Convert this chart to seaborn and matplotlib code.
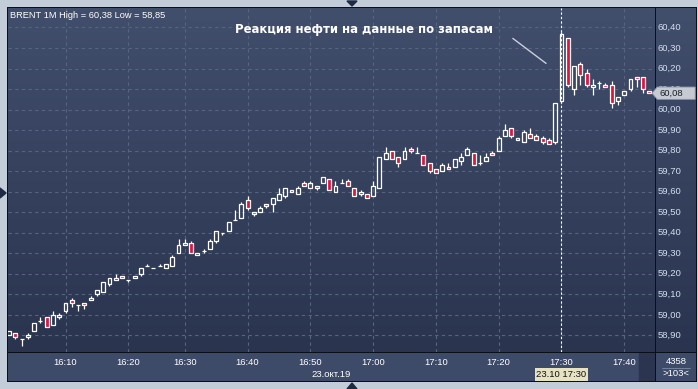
import numpy as np
import matplotlib
matplotlib.use("Agg")
import matplotlib.pyplot as plt
import matplotlib.transforms as mtransforms
from matplotlib.patches import Polygon, Rectangle
from matplotlib.colors import LinearSegmentedColormap
import seaborn as sns

# ---------------- data (1-minute BRENT candles, 16:01 .. 17:44) ----------------
opens = [58.90, 58.91, 58.88, 58.89, 58.92, 58.97, 58.99, 58.95, 58.99, 59.02,
         59.07, 59.05, 59.06, 59.07, 59.10, 59.11, 59.15, 59.17, 59.19, 59.17,
         59.18, 59.20, 59.24, 59.23, 59.24, 59.23, 59.24, 59.30, 59.34, 59.35,
         59.29, 59.31, 59.32, 59.36, 59.40, 59.41, 59.46, 59.47, 59.56, 59.50,
         59.50, 59.54, 59.54, 59.56, 59.58, 59.61, 59.59, 59.64, 59.62, 59.63,
         59.64, 59.66, 59.60, 59.64, 59.65, 59.62, 59.59, 59.59, 59.58, 59.62,
         59.76, 59.80, 59.77, 59.76, 59.81, 59.79, 59.78, 59.74, 59.71, 59.70,
         59.72, 59.72, 59.75, 59.78, 59.79, 59.74, 59.75, 59.79, 59.80, 59.87,
         59.91, 59.85, 59.84, 59.88, 59.87, 59.86, 59.85, 59.84, 60.04, 60.35,
         60.10, 60.22, 60.18, 60.11, 60.13, 60.12, 60.12, 60.04, 60.07, 60.10,
         60.16, 60.16, 60.09]
highs = [58.92, 58.91, 58.88, 58.91, 58.96, 58.99, 58.99, 59.02, 59.01, 59.06,
         59.08, 59.05, 59.06, 59.09, 59.12, 59.16, 59.18, 59.20, 59.19, 59.17,
         59.19, 59.23, 59.25, 59.23, 59.25, 59.25, 59.29, 59.37, 59.37, 59.36,
         59.30, 59.32, 59.37, 59.41, 59.40, 59.45, 59.51, 59.55, 59.58, 59.50,
         59.53, 59.54, 59.57, 59.62, 59.62, 59.61, 59.63, 59.65, 59.65, 59.63,
         59.67, 59.66, 59.65, 59.66, 59.66, 59.62, 59.61, 59.59, 59.65, 59.77,
         59.82, 59.80, 59.77, 59.82, 59.82, 59.82, 59.78, 59.74, 59.71, 59.74,
         59.74, 59.76, 59.79, 59.82, 59.79, 59.78, 59.79, 59.80, 59.87, 59.93,
         59.91, 59.86, 59.90, 59.91, 59.88, 59.87, 59.86, 60.03, 60.38, 60.35,
         60.21, 60.23, 60.20, 60.15, 60.14, 60.13, 60.14, 60.06, 60.09, 60.15,
         60.16, 60.16, 60.09]
lows = [58.90, 58.88, 58.85, 58.88, 58.92, 58.96, 58.94, 58.95, 58.98, 59.01,
        59.04, 59.02, 59.03, 59.07, 59.09, 59.11, 59.14, 59.17, 59.18, 59.16,
        59.18, 59.19, 59.24, 59.23, 59.24, 59.23, 59.24, 59.30, 59.34, 59.30,
        59.29, 59.30, 59.32, 59.35, 59.39, 59.41, 59.46, 59.47, 59.51, 59.48,
        59.50, 59.52, 59.50, 59.56, 59.57, 59.60, 59.59, 59.63, 59.62, 59.61,
        59.64, 59.61, 59.60, 59.64, 59.63, 59.58, 59.58, 59.57, 59.58, 59.62,
        59.76, 59.76, 59.72, 59.76, 59.79, 59.79, 59.73, 59.69, 59.69, 59.70,
        59.71, 59.72, 59.73, 59.78, 59.73, 59.73, 59.75, 59.78, 59.80, 59.87,
        59.86, 59.85, 59.84, 59.86, 59.85, 59.83, 59.83, 59.83, 60.03, 60.11,
        60.07, 60.12, 60.11, 60.07, 60.10, 60.11, 60.01, 60.02, 60.07, 60.09,
        60.11, 60.08, 60.08]
closes = [58.92, 58.89, 58.88, 58.90, 58.96, 58.97, 58.94, 59.00, 59.00, 59.06,
          59.06, 59.05, 59.05, 59.08, 59.12, 59.16, 59.18, 59.18, 59.18, 59.17,
          59.19, 59.23, 59.24, 59.23, 59.24, 59.25, 59.28, 59.34, 59.35, 59.30,
          59.30, 59.31, 59.36, 59.41, 59.40, 59.45, 59.46, 59.54, 59.52, 59.49,
          59.52, 59.53, 59.57, 59.59, 59.62, 59.60, 59.62, 59.63, 59.64, 59.62,
          59.67, 59.61, 59.63, 59.64, 59.63, 59.58, 59.60, 59.57, 59.63, 59.77,
          59.79, 59.76, 59.74, 59.80, 59.80, 59.79, 59.73, 59.70, 59.69, 59.73,
          59.71, 59.76, 59.77, 59.81, 59.73, 59.74, 59.77, 59.78, 59.86, 59.90,
          59.87, 59.86, 59.89, 59.86, 59.85, 59.84, 59.83, 60.03, 60.37, 60.12,
          60.21, 60.17, 60.12, 60.12, 60.13, 60.11, 60.03, 60.06, 60.09, 60.15,
          60.15, 60.10, 60.08]

tick_candles = [9, 19, 28, 38, 48, 58, 68, 78, 88, 98]
tick_labels = ["16:10", "16:20", "16:30", "16:40", "16:50",
               "17:00", "17:10", "17:20", "17:30", "17:40"]
price_ticks = [58.90, 59.00, 59.10, 59.20, 59.30, 59.40, 59.50, 59.60,
               59.70, 59.80, 59.90, 60.00, 60.10, 60.20, 60.30, 60.40]
last_price = 60.08
header = "BRENT 1M High = 60,38 Low = 58,85"
note = "Реакция нефти на данные по запасам"
date_label = "23.окт.19"
cursor_label = "23.10 17:30"
cursor_candle = 88
corner_top, corner_bottom = "4358", ">103<"

# ---------------- styling ----------------
sns.set_theme(style="dark")
plt.rcParams['font.family'] = ['Liberation Sans', 'DejaVu Sans']

W, H = 698, 389
fig = plt.figure(figsize=(W / 100, H / 100), dpi=100, facecolor="#c3ccd9")


def fr(x0, y0, x1, y1):
    return [x0 / W, 1 - y1 / H, (x1 - x0) / W, (y1 - y0) / H]


def off(a):
    a.set_axis_off()
    return a


TOP_C, BOT_C = "#414e6c", "#2a344f"
grad_cmap = LinearSegmentedColormap.from_list("bg", [TOP_C, BOT_C])
grad = np.linspace(0, 1, 256).reshape(-1, 1)

# black frame
frame = off(fig.add_axes(fr(7, 7, 697, 382)))
frame.add_patch(Rectangle((0, 0), 1, 1, transform=frame.transAxes, color="#0b0f18"))

# gradient backgrounds
for rect in [fr(8, 8, 655, 352), fr(656, 8, 696, 352)]:
    b = off(fig.add_axes(rect))
    b.imshow(grad, aspect="auto", cmap=grad_cmap, extent=[0, 1, 0, 1])

# main axes
ax = fig.add_axes(fr(8, 8, 655, 352), facecolor="none")
ax.set_xlim(-0.16, 102.9)
ax.set_ylim(58.819, 60.495)
for s in ax.spines.values():
    s.set_visible(False)
ax.set_xticks([])
ax.set_yticks([])
ax.grid(False)

GRID = "#57647f"
for p in price_ticks:
    ax.axhline(p, color=GRID, lw=0.8, dashes=(3, 3), zorder=1)
for t in tick_candles:
    ax.axvline(t, color=GRID, lw=0.8, dashes=(3, 3), zorder=1)

o = np.array(opens); h = np.array(highs); l = np.array(lows); c = np.array(closes)
x = np.arange(len(o))
up = c >= o
body_lo = np.minimum(o, c)
body_hi = np.maximum(o, c)
RED = "#e3113c"

ax.vlines(x, l, body_lo, color="white", lw=0.9, zorder=3)
ax.vlines(x, body_hi, h, color="white", lw=0.9, zorder=3)
ax.bar(x[up], (body_hi - body_lo)[up], bottom=body_lo[up], width=0.62,
       facecolor="none", edgecolor="white", linewidth=0.9, zorder=4)
ax.bar(x[~up], (body_hi - body_lo)[~up], bottom=body_lo[~up], width=0.62,
       facecolor=RED, edgecolor="white", linewidth=0.9, zorder=4)

# cursor line
ax.axvline(cursor_candle, color="white", lw=0.8, dashes=(2, 2), zorder=2)

# annotation
ax.text(36.0, 60.388, note, color="white", fontsize=8.4, va="center", ha="left",
        family="DejaVu Sans", fontweight="bold", zorder=6)
ax.annotate("", xy=(85.9, 60.217), xytext=(79.9, 60.355),
            arrowprops=dict(arrowstyle="-", color="#c9cfdc", lw=1.0), zorder=6)

# header
fig.text(10 / W, 1 - 15 / H, header, color="white", fontsize=6.7, va="center", ha="left")

# right price axis
axr = fig.add_axes(fr(656, 8, 696, 352), facecolor="none")
axr.set_ylim(ax.get_ylim())
axr.set_xlim(0, 1)
axr.set_axis_off()
for p in price_ticks:
    axr.text(0.05, p, f"{p:.2f}".replace(".", ","), color="#d4def0",
             fontsize=6.8, va="center", ha="left")
tr = mtransforms.blended_transform_factory(axr.transAxes, axr.transData)
dy = 0.03
marker = Polygon([(-0.1, last_price), (0.03, last_price + dy), (0.98, last_price + dy),
                  (0.98, last_price - dy), (0.03, last_price - dy)], closed=True,
                 transform=tr, facecolor="#c5cad3", edgecolor="#8d96a8", lw=0.6,
                 clip_on=False, zorder=8)
axr.add_patch(marker)
axr.text(0.1, last_price, f"{last_price:.2f}".replace(".", ","), color="#1b1f2a",
         fontsize=6.8, va="center", ha="left", zorder=9)

# bottom time axis
PANEL = "#3d4a68"
axb = fig.add_axes(fr(8, 353, 655, 381), facecolor=PANEL)
axb.set_xlim(ax.get_xlim())
axb.set_ylim(0, 1)
axb.set_axis_off()
axb.add_patch(Rectangle((0, 0), 1, 1, transform=axb.transAxes, color=PANEL, zorder=0))
for t, lab in zip(tick_candles, tick_labels):
    axb.text(t, 0.66, lab, color="white", fontsize=6.8, ha="center", va="center")
axb.text(0.5, 0.24, date_label, transform=axb.transAxes, color="white",
         fontsize=6.8, ha="center", va="center")
axb.text(cursor_candle, 0.23, cursor_label, color="#111111", fontsize=6.8,
         ha="center", va="center",
         bbox=dict(boxstyle="square,pad=0.18", facecolor="#e6e2c2", edgecolor="none"))
axb.add_patch(Rectangle((0.976, 0), 0.024, 1, transform=axb.transAxes,
                        color="#2b3550", zorder=1))

# corner box
axc = fig.add_axes(fr(656, 353, 696, 381), facecolor=PANEL)
axc.set_axis_off()
axc.add_patch(Rectangle((0, 0), 1, 1, transform=axc.transAxes, color=PANEL, zorder=0))
axc.text(0.5, 0.68, corner_top, color="white", fontsize=6.8, ha="center", va="center",
         transform=axc.transAxes)
axc.text(0.5, 0.25, corner_bottom, color="white", fontsize=6.8, ha="center", va="center",
         transform=axc.transAxes)
axc.plot([0.15, 0.85], [0.47, 0.47], color="#7d8aa6", lw=0.6, transform=axc.transAxes)

# small navigation triangles
def px(pts):
    return [(a / W, 1 - b / H) for a, b in pts]

TRI = "#1e2942"
fig.add_artist(Polygon(px([(347, 1), (357, 1), (352, 6)]), closed=True,
                       transform=fig.transFigure, color=TRI))
fig.add_artist(Polygon(px([(347, 389), (357, 389), (352, 383)]), closed=True,
                       transform=fig.transFigure, color=TRI))
fig.add_artist(Polygon(px([(0, 188), (0, 198), (6, 193)]), closed=True,
                       transform=fig.transFigure, color=TRI))

fig.savefig("out.png", dpi=100, facecolor=fig.get_facecolor())
